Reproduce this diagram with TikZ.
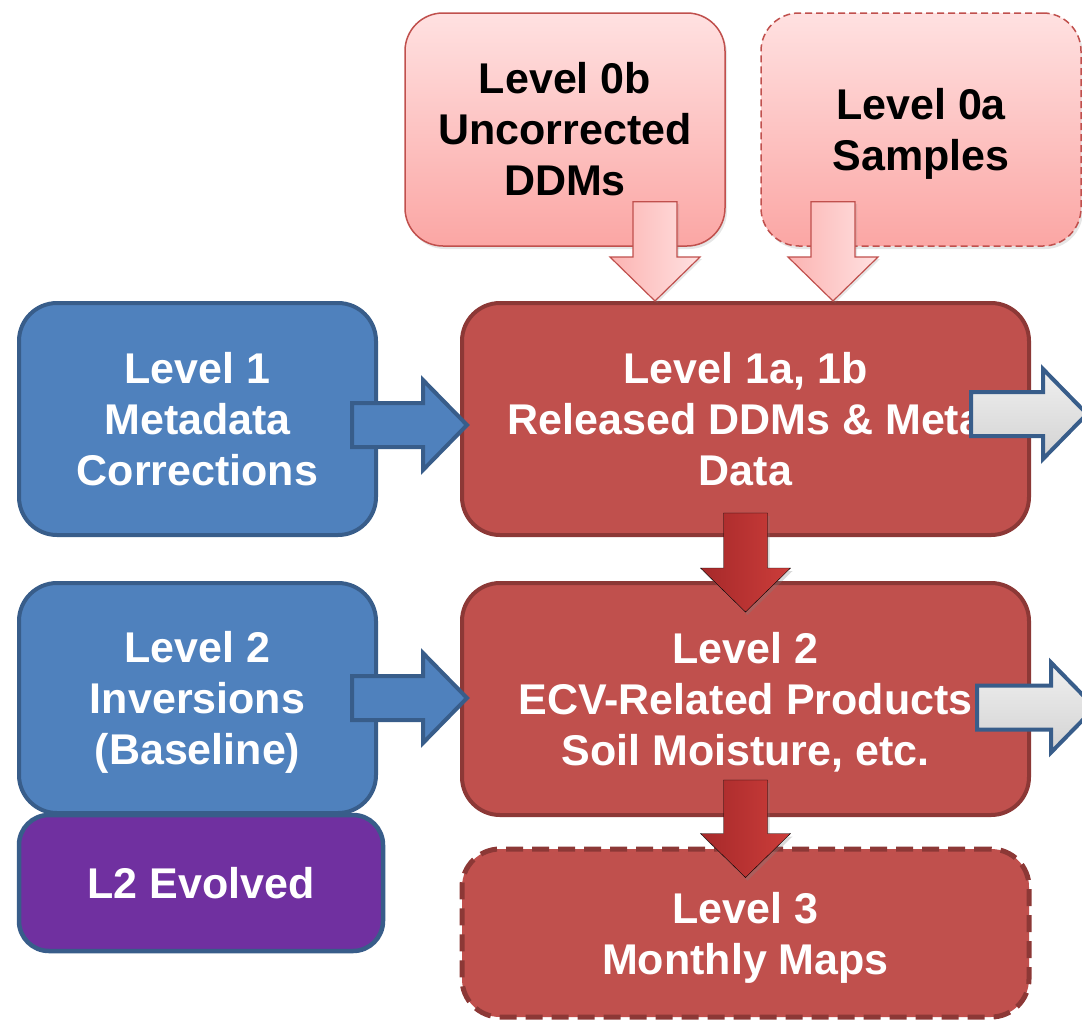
\documentclass[tikz,border=0pt]{standalone}
\usepackage{fontspec}
\setmainfont{Liberation Sans}
\usetikzlibrary{calc,shadows}
\definecolor{blu}{HTML}{4F81BD}
\definecolor{bluline}{HTML}{385D8A}
\definecolor{rd}{HTML}{C0504D}
\definecolor{rdline}{HTML}{8C3836}
\definecolor{pinktop}{HTML}{FFE1E1}
\definecolor{pinkbot}{HTML}{FBA6A4}
\definecolor{purp}{HTML}{7030A0}
\definecolor{darkrd}{HTML}{A6292A}
\definecolor{litrd}{HTML}{CC3D3A}
\tikzstyle{lvl}=[rounded corners=38pt,align=center,inner sep=0pt,font=\fontsize{43}{51}\selectfont\bfseries]
\tikzstyle{bluebox}=[lvl,fill=blu,draw=bluline,line width=4pt,text=white,minimum width=357pt]
\tikzstyle{redbox}=[lvl,fill=rd,draw=rdline,line width=4pt,text=white,minimum width=567pt]
\tikzstyle{pinkbox}=[lvl,top color=pinktop,bottom color=pinkbot,draw=rd,line width=1.5pt,
  minimum width=320pt,minimum height=233pt,drop shadow={opacity=0.2,shadow xshift=2pt,shadow yshift=-3pt}]
\tikzstyle{bluearr}=[fill=blu,draw=bluline,line width=4pt]
\tikzstyle{grayarr}=[top color=gray!12,bottom color=gray!35,draw=bluline,line width=4pt]
\tikzstyle{pinkarr}=[left color=pinkbot!85,right color=pinktop,draw=rd,line width=1.2pt,
  drop shadow={opacity=0.2,shadow xshift=2pt,shadow yshift=-2pt}]
\tikzstyle{redarr}=[left color=darkrd,right color=litrd,
  drop shadow={opacity=0.3,shadow xshift=2pt,shadow yshift=-3pt}]

\begin{document}
\begin{tikzpicture}[x=1pt,y=-1pt]
\useasboundingbox (0,0) rectangle (1082,1021);
\def\harr#1#2#3{\draw[#1] let \p1=#2, \p2=#3 in (\x1,\y1+22pt) -- (\x2-44pt,\y1+22pt)
  -- (\x2-44pt,\y1+45pt) -- (\x2,\y1) -- (\x2-44pt,\y1-45pt) -- (\x2-44pt,\y1-22pt) -- (\x1,\y1-22pt) -- cycle;}
\def\varr#1#2#3{\draw[#1] let \p1=#2, \p2=#3 in (\x1-22pt,\y1) -- (\x1-22pt,\y2+44pt)
  -- (\x1-45pt,\y2+44pt) -- (\x1,\y2) -- (\x1+45pt,\y2+44pt) -- (\x1+22pt,\y2+44pt) -- (\x1+22pt,\y1) -- cycle;}

% level 0 inputs
\node[pinkbox] (zerob) at (565,129.5) {Level 0b\\Uncorrected\\DDMs};
\node[pinkbox,dashed,dash pattern=on 7pt off 4pt] (zeroa) at (921,129.5) {Level 0a\\\smash{Samples}};

% left column
\node[bluebox,minimum height=232pt] (meta) at (197.5,419) {Level 1\\Metadata\\Corrections};
\node[bluebox,minimum height=230pt] (inv) at (197.5,698) {Level 2\\Inversions\\\smash{(Baseline)}};
\node[lvl,rounded corners=30pt,fill=purp,draw=bluline,line width=4.5pt,text=white,
  minimum width=364pt,minimum height=136pt] (evol) at (201,883) {L2 Evolved};

% products
\node[redbox,minimum height=232pt] (rel) at (745.5,419) {Level 1a, 1b\\Released DDMs \& Meta\\Data};
\node[redbox,minimum height=232pt] (ltwo) at (745.5,699) {Level 2\\ECV-Related Products\\\smash{Soil Moisture, etc.}};
\node[redbox,dashed,dash pattern=on 17pt off 9pt,line width=5pt,minimum height=168pt] (lthree) at (745.5,933) {Level 3\\\smash{Monthly Maps}};

% block arrows
\varr{pinkarr}{([xshift=90pt,yshift=45pt]zerob.south)}{(rel.north)}
\varr{pinkarr}{([xshift=-88pt,yshift=45pt]zeroa.south)}{(rel.north)}
\harr{bluearr}{([xshift=-26pt,yshift=-6pt]meta.east)}{([xshift=7pt]rel.west)}
\harr{bluearr}{([xshift=-26pt]inv.east)}{([xshift=7pt]ltwo.west)}
\harr{grayarr}{([xshift=-60pt,yshift=5pt]rel.east)}{([xshift=56pt]rel.east)}
\harr{grayarr}{([xshift=-54pt,yshift=-8.5pt]ltwo.east)}{([xshift=64pt]ltwo.east)}
\varr{redarr}{([yshift=24pt]rel.south)}{([yshift=-31pt]ltwo.north)}
\varr{redarr}{([yshift=37pt]ltwo.south)}{([yshift=-31pt]lthree.north)}
\end{tikzpicture}
\end{document}
